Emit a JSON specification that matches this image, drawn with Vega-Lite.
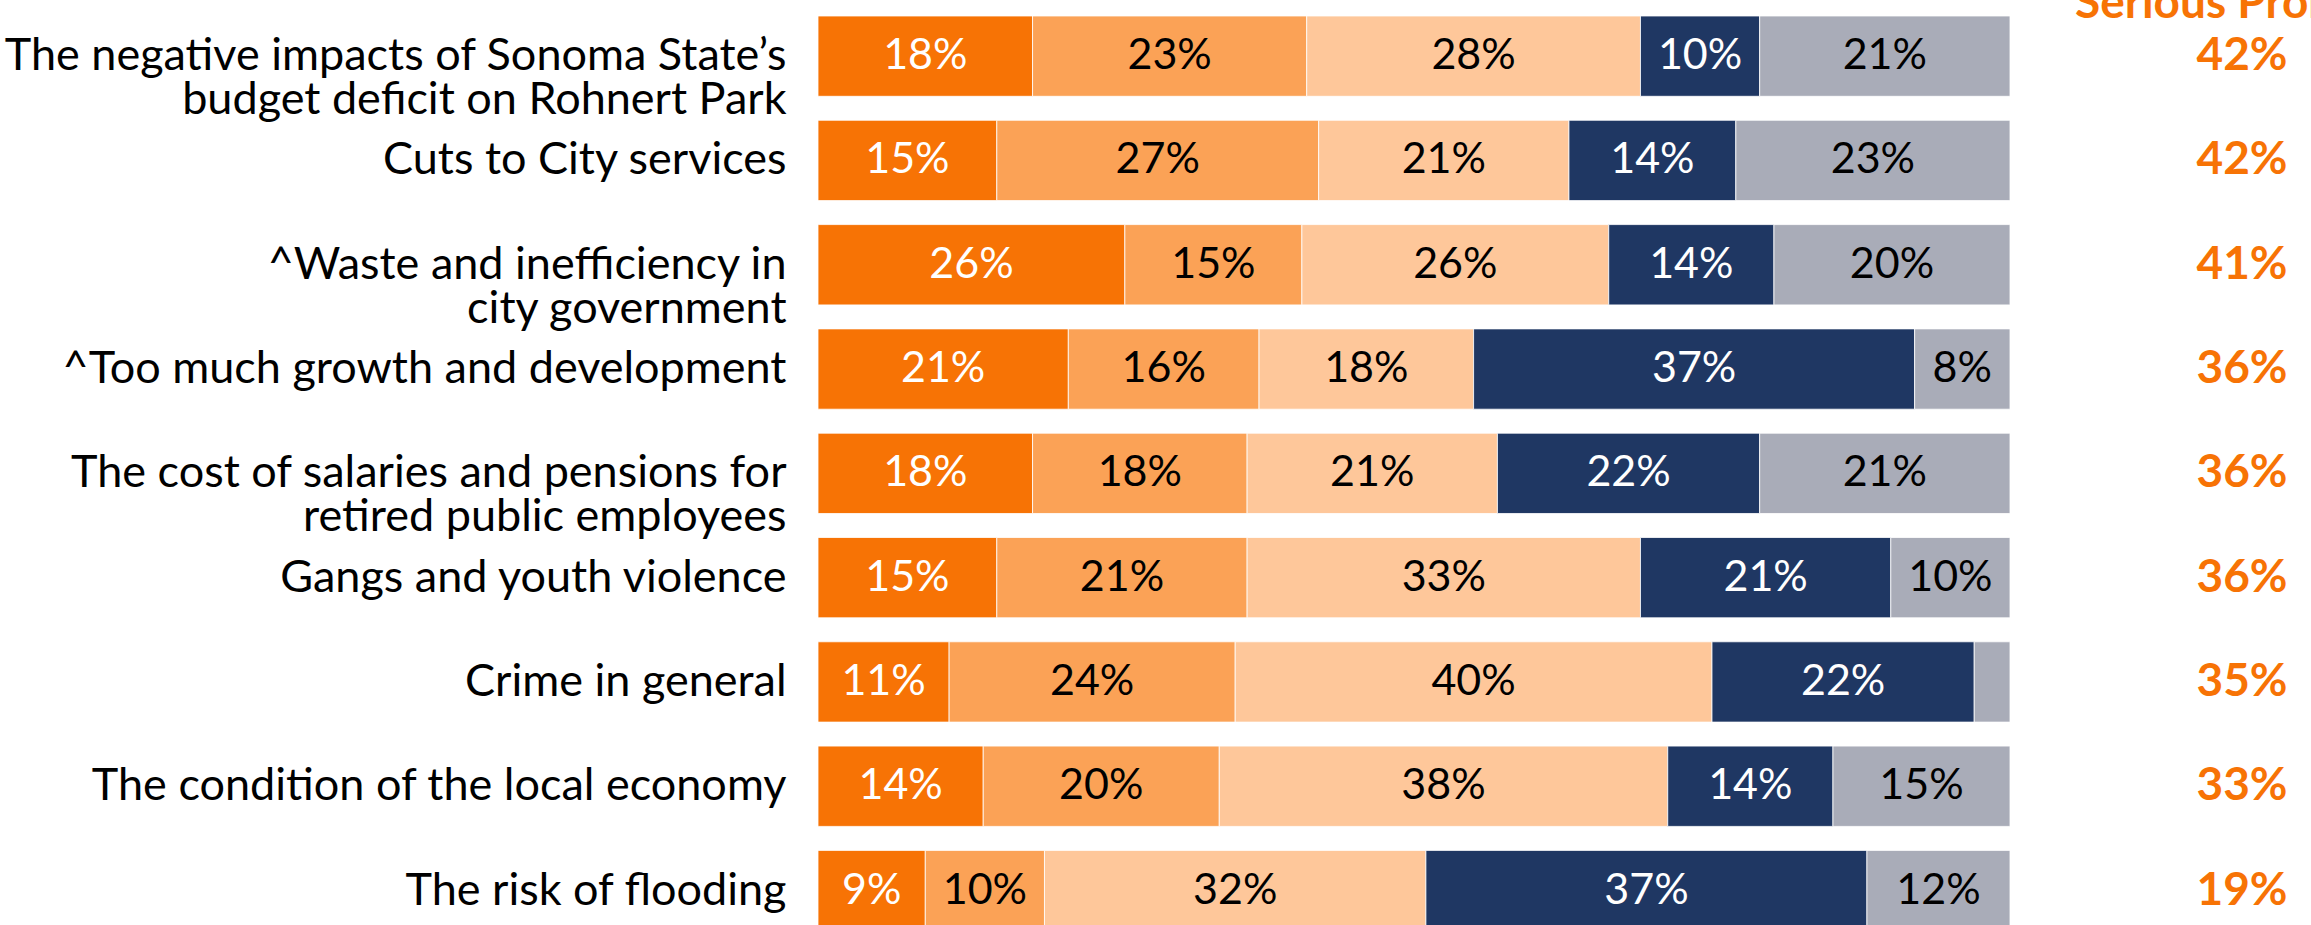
{
  "$schema": "https://vega.github.io/schema/vega-lite/v6.json",
  "padding": {"left": 3, "top": -19, "right": -82, "bottom": -16},
  "background": "white",
  "config": {
    "view": {"stroke": null},
    "font": "Lato",
    "concat": {"spacing": 64}
  },
  "datasets": {
    "segments": [
      {"item": "The negative impacts of Sonoma State’s|budget deficit on Rohnert Park", "resp": "Extremely serious", "k": 1, "pct": 0.18},
      {"item": "The negative impacts of Sonoma State’s|budget deficit on Rohnert Park", "resp": "Very serious", "k": 2, "pct": 0.23},
      {"item": "The negative impacts of Sonoma State’s|budget deficit on Rohnert Park", "resp": "Somewhat serious", "k": 3, "pct": 0.28},
      {"item": "The negative impacts of Sonoma State’s|budget deficit on Rohnert Park", "resp": "Not too serious", "k": 4, "pct": 0.10},
      {"item": "The negative impacts of Sonoma State’s|budget deficit on Rohnert Park", "resp": "Not a problem / DK", "k": 5, "pct": 0.21},
      {"item": "Cuts to City services", "resp": "Extremely serious", "k": 1, "pct": 0.15},
      {"item": "Cuts to City services", "resp": "Very serious", "k": 2, "pct": 0.27},
      {"item": "Cuts to City services", "resp": "Somewhat serious", "k": 3, "pct": 0.21},
      {"item": "Cuts to City services", "resp": "Not too serious", "k": 4, "pct": 0.14},
      {"item": "Cuts to City services", "resp": "Not a problem / DK", "k": 5, "pct": 0.23},
      {"item": "^Waste and inefficiency in|city government", "resp": "Extremely serious", "k": 1, "pct": 0.26},
      {"item": "^Waste and inefficiency in|city government", "resp": "Very serious", "k": 2, "pct": 0.15},
      {"item": "^Waste and inefficiency in|city government", "resp": "Somewhat serious", "k": 3, "pct": 0.26},
      {"item": "^Waste and inefficiency in|city government", "resp": "Not too serious", "k": 4, "pct": 0.14},
      {"item": "^Waste and inefficiency in|city government", "resp": "Not a problem / DK", "k": 5, "pct": 0.20},
      {"item": "^Too much growth and development", "resp": "Extremely serious", "k": 1, "pct": 0.21},
      {"item": "^Too much growth and development", "resp": "Very serious", "k": 2, "pct": 0.16},
      {"item": "^Too much growth and development", "resp": "Somewhat serious", "k": 3, "pct": 0.18},
      {"item": "^Too much growth and development", "resp": "Not too serious", "k": 4, "pct": 0.37},
      {"item": "^Too much growth and development", "resp": "Not a problem / DK", "k": 5, "pct": 0.08},
      {"item": "The cost of salaries and pensions for|retired public employees", "resp": "Extremely serious", "k": 1, "pct": 0.18},
      {"item": "The cost of salaries and pensions for|retired public employees", "resp": "Very serious", "k": 2, "pct": 0.18},
      {"item": "The cost of salaries and pensions for|retired public employees", "resp": "Somewhat serious", "k": 3, "pct": 0.21},
      {"item": "The cost of salaries and pensions for|retired public employees", "resp": "Not too serious", "k": 4, "pct": 0.22},
      {"item": "The cost of salaries and pensions for|retired public employees", "resp": "Not a problem / DK", "k": 5, "pct": 0.21},
      {"item": "Gangs and youth violence", "resp": "Extremely serious", "k": 1, "pct": 0.15},
      {"item": "Gangs and youth violence", "resp": "Very serious", "k": 2, "pct": 0.21},
      {"item": "Gangs and youth violence", "resp": "Somewhat serious", "k": 3, "pct": 0.33},
      {"item": "Gangs and youth violence", "resp": "Not too serious", "k": 4, "pct": 0.21},
      {"item": "Gangs and youth violence", "resp": "Not a problem / DK", "k": 5, "pct": 0.10},
      {"item": "Crime in general", "resp": "Extremely serious", "k": 1, "pct": 0.11},
      {"item": "Crime in general", "resp": "Very serious", "k": 2, "pct": 0.24},
      {"item": "Crime in general", "resp": "Somewhat serious", "k": 3, "pct": 0.40},
      {"item": "Crime in general", "resp": "Not too serious", "k": 4, "pct": 0.22},
      {"item": "Crime in general", "resp": "Not a problem / DK", "k": 5, "pct": 0.03},
      {"item": "The condition of the local economy", "resp": "Extremely serious", "k": 1, "pct": 0.14},
      {"item": "The condition of the local economy", "resp": "Very serious", "k": 2, "pct": 0.20},
      {"item": "The condition of the local economy", "resp": "Somewhat serious", "k": 3, "pct": 0.38},
      {"item": "The condition of the local economy", "resp": "Not too serious", "k": 4, "pct": 0.14},
      {"item": "The condition of the local economy", "resp": "Not a problem / DK", "k": 5, "pct": 0.15},
      {"item": "The risk of flooding", "resp": "Extremely serious", "k": 1, "pct": 0.09},
      {"item": "The risk of flooding", "resp": "Very serious", "k": 2, "pct": 0.10},
      {"item": "The risk of flooding", "resp": "Somewhat serious", "k": 3, "pct": 0.32},
      {"item": "The risk of flooding", "resp": "Not too serious", "k": 4, "pct": 0.37},
      {"item": "The risk of flooding", "resp": "Not a problem / DK", "k": 5, "pct": 0.12}
    ],
    "totals": [
      {"item": "The negative impacts of Sonoma State’s|budget deficit on Rohnert Park", "total": 0.42},
      {"item": "Cuts to City services", "total": 0.42},
      {"item": "^Waste and inefficiency in|city government", "total": 0.41},
      {"item": "^Too much growth and development", "total": 0.36},
      {"item": "The cost of salaries and pensions for|retired public employees", "total": 0.36},
      {"item": "Gangs and youth violence", "total": 0.36},
      {"item": "Crime in general", "total": 0.35},
      {"item": "The condition of the local economy", "total": 0.33},
      {"item": "The risk of flooding", "total": 0.19}
    ]
  },
  "hconcat": [
    {
      "width": 1192,
      "height": 938.7,
      "data": {"name": "segments"},
      "encoding": {
        "y": {
          "field": "item",
          "type": "nominal",
          "sort": null,
          "title": null,
          "scale": {"paddingInner": 0.23, "paddingOuter": 0.115},
          "axis": {
            "domain": false,
            "ticks": false,
            "labelPadding": 32,
            "labelFontSize": 45,
            "labelLineHeight": 44,
            "labelColor": "#000000",
            "labelLimit": 2000,
            "labelExpr": "split(datum.label, '|')"
          }
        }
      },
      "layer": [
        {
          "mark": {"type": "bar", "stroke": "#ffffff", "strokeWidth": 0.8},
          "encoding": {
            "x": {"field": "pct", "type": "quantitative", "stack": "normalize", "axis": null, "scale": {"domain": [0, 1], "nice": false}},
            "color": {
              "field": "resp",
              "type": "nominal",
              "legend": null,
              "scale": {
                "domain": ["Extremely serious", "Very serious", "Somewhat serious", "Not too serious", "Not a problem / DK"],
                "range": ["#F77305", "#FBA256", "#FEC79A", "#1F3763", "#A9ACB8"]
              }
            },
            "order": {"field": "k", "type": "quantitative"}
          }
        },
        {
          "mark": {"type": "text", "fontSize": 43, "align": "center", "baseline": "middle"},
          "encoding": {
            "x": {"field": "pct", "type": "quantitative", "stack": "normalize", "bandPosition": 0.5},
            "order": {"field": "k", "type": "quantitative"},
            "text": {"condition": {"test": "datum.pct < 0.05", "value": ""}, "field": "pct", "type": "quantitative", "format": ".0%"},
            "color": {"condition": {"test": "datum.k === 1 || datum.k === 4", "value": "#ffffff"}, "value": "#000000"}
          }
        }
      ]
    },
    {
      "width": 320,
      "height": 938.7,
      "data": {"name": "totals"},
      "title": {"text": "Serious Problem", "fontSize": 46, "fontWeight": "bold", "color": "#F77305", "anchor": "middle", "baseline": "alphabetic", "offset": -60},
      "mark": {"type": "text", "fontSize": 46, "fontWeight": "bold", "color": "#F77305", "align": "center", "baseline": "middle"},
      "encoding": {
        "y": {"field": "item", "type": "nominal", "sort": null, "axis": null, "scale": {"paddingInner": 0.23, "paddingOuter": 0.115}},
        "text": {"field": "total", "type": "quantitative", "format": ".0%"}
      }
    }
  ]
}
